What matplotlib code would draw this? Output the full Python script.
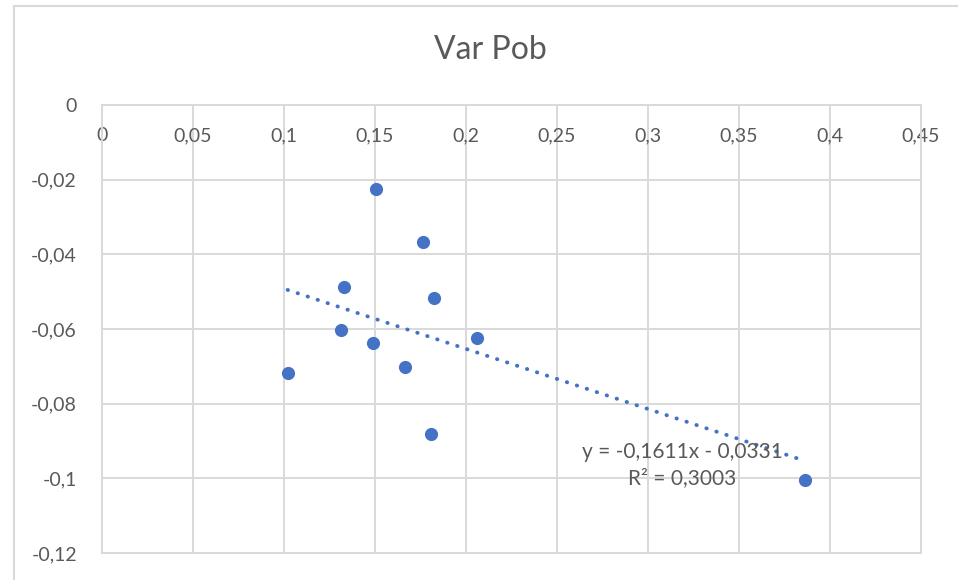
import numpy as np
import matplotlib
matplotlib.use("Agg")
import matplotlib.pyplot as plt
from matplotlib.ticker import FuncFormatter, MultipleLocator

# datos
var_x = [0.102, 0.1328, 0.1311, 0.1504, 0.1487, 0.1663, 0.1766, 0.1824, 0.1810, 0.2059, 0.3863]
var_y = [-0.0717, -0.0488, -0.0603, -0.0224, -0.0638, -0.0703, -0.0367, -0.0517, -0.0881, -0.0625, -0.1005]

# linea de tendencia (la que reporta la etiqueta)
pendiente = -0.1611
ordenada = -0.0331
r2 = 0.3003

titulo = "Var Pob"

plt.rcParams['font.family'] = ['Lato', 'DejaVu Sans']
gris_texto = "#595959"
gris_linea = "#d9d9d9"
azul = "#4472C4"

fig = plt.figure(figsize=(9.58, 5.80), dpi=100)
W, H = 958, 580
ax = fig.add_axes([102 / W, 1 - 553 / H, (921 - 102) / W, (553 - 105) / H])

# borde del grafico (solo se ve arriba e izquierda)
fig.add_artist(plt.Line2D([14 / W, 1], [1 - 6 / H, 1 - 6 / H], color=gris_linea, lw=1.5))
fig.add_artist(plt.Line2D([14 / W, 14 / W], [0, 1 - 6 / H], color=gris_linea, lw=1.5))

ax.scatter(var_x, var_y, s=90, color=azul, zorder=3, linewidths=0)

# tendencia desde el x minimo al maximo
xt = np.array([min(var_x), max(var_x)])
ax.plot(xt, pendiente * xt + ordenada, color=azul, lw=2.8,
        linestyle=(0, (0.1, 2.6)), dash_capstyle='round', zorder=2)

def coma(v, pos):
    s = "{:g}".format(round(v, 4))
    if s == "-0":
        s = "0"
    return s.replace(".", ",")

ax.set_xlim(0, 0.45)
ax.set_ylim(-0.12, 0)
ax.xaxis.set_major_locator(MultipleLocator(0.05))
ax.yaxis.set_major_locator(MultipleLocator(0.02))
ax.xaxis.set_major_formatter(FuncFormatter(coma))
ax.yaxis.set_major_formatter(FuncFormatter(coma))

ax.grid(True, color=gris_linea, lw=1.4)
ax.set_axisbelow(True)
for lado in ax.spines.values():
    lado.set_color(gris_linea)
    lado.set_linewidth(1.4)

ax.tick_params(axis='x', top=True, labeltop=True, bottom=False, labelbottom=False,
               length=0, pad=-28, labelsize=14, labelcolor=gris_texto)
ax.tick_params(axis='y', length=0, pad=18, labelsize=14, labelcolor=gris_texto)

eq = "y = {}x - {}\nR² = {}".format(str(pendiente).replace(".", ","),
                                      str(abs(ordenada)).replace(".", ","),
                                      str(r2).replace(".", ","))
ax.text(0.3187, -0.0964, eq, ha='center', va='center', multialignment='center',
        fontsize=15, color=gris_texto, linespacing=1.35, zorder=4)

fig.text(490 / W, 1 - 50 / H, titulo, ha='center', va='center', fontsize=23, color=gris_texto)

fig.savefig("out.png", dpi=100, facecolor="white")
